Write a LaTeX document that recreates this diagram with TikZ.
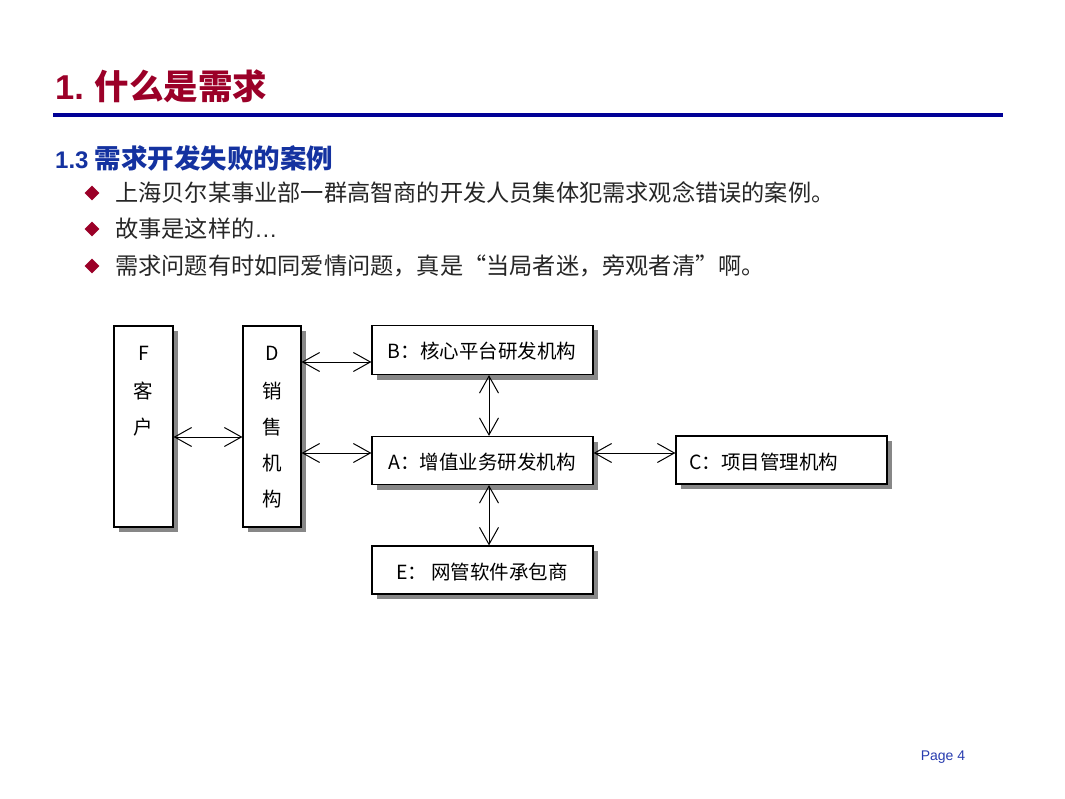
\documentclass[tikz,border=0pt]{standalone}
\usepackage{fontspec}
\setmainfont{Noto Sans CJK SC}
\newfontfamily\arialf{Liberation Sans}
\usetikzlibrary{arrows.meta,shadows,shapes.geometric}
\definecolor{titlered}{RGB}{155,0,40}
\definecolor{subblue}{RGB}{20,50,160}
\definecolor{linecol}{RGB}{0,0,150}
\definecolor{pageblue}{RGB}{40,60,175}
\definecolor{shadowgray}{RGB}{135,135,135}
\begin{document}
\begin{tikzpicture}[x=1pt,y=-1pt,
  bullettext/.style={anchor=west, inner sep=0, font=\fontsize{23.2}{27}\selectfont, text=black!85},
  bulletmark/.style={diamond, fill=titlered, minimum size=15pt, inner sep=0},
  box/.style={draw, line width=1.2pt, fill=white, inner sep=0,
    general shadow={fill=shadowgray, shadow xshift=5pt, shadow yshift=-5pt}},
  boxtext/.style={inner sep=0, font=\fontsize{19.5}{23}\selectfont},
  biarrow/.style={line width=1pt, {Straight Barb[length=17pt,width=19pt]}-{Straight Barb[length=17pt,width=19pt]}}
]
\useasboundingbox (0,0) rectangle (1065,799);
\fill[white] (0,0) rectangle (1065,799);

% title
\node[anchor=west, inner sep=0, text=titlered, font=\fontsize{34.5}{40}\selectfont\bfseries] (title) at (55,86) {{\arialf 1.} 什么是需求};
\draw[linecol, line width=4pt] (53,115) -- (1003,115);

% subtitle
\node[anchor=west, inner sep=0, text=subblue, font=\fontsize{26.5}{30}\selectfont\bfseries] (sub) at (55,158) {{\arialf\fontsize{24}{28}\selectfont 1.3} 需求开发失败的案例};

% bullets
\node[bulletmark] (d1) at (92,193) {};
\node[bulletmark] (d2) at (92,229) {};
\node[bulletmark] (d3) at (92,266) {};
\node[bullettext] (t1) at (115,193) {上海贝尔某事业部一群高智商的开发人员集体犯需求观念错误的案例。};
\node[bullettext] (t2) at (115,229) {故事是这样的{\arialf …}};
\node[bullettext] (t3) at (115,266) {需求问题有时如同爱情问题，真是“当局者迷，旁观者清”啊。};

% diagram boxes
\node[box, minimum width=59pt, minimum height=201pt] (F) at (143.5,426.5) {};
\node[box, minimum width=58pt, minimum height=201pt] (D) at (272,426.5) {};
\node[box, minimum width=221pt, minimum height=49pt] (B) at (482.5,350) {};
\node[box, minimum width=221pt, minimum height=48pt] (A) at (482.5,460.5) {};
\node[box, minimum width=221pt, minimum height=48pt] (E) at (482.5,570) {};
\node[box, minimum width=211pt, minimum height=48pt] (C) at (781.5,460) {};

% box texts
\node[boxtext] (f1) at (143.5,353) {F};
\node[boxtext] (f2) at (143.5,391) {客};
\node[boxtext] (f3) at (143.5,427) {户};
\node[boxtext] (dd1) at (272,353) {D};
\node[boxtext] (dd2) at (272,391) {销};
\node[boxtext] (dd3) at (272,427) {售};
\node[boxtext] (dd4) at (272,463) {机};
\node[boxtext] (dd5) at (272,499) {构};
\node[boxtext] (bt) at (482,351) {B：核心平台研发机构};
\node[boxtext] (at) at (482,462) {A：增值业务研发机构};
\node[boxtext] (et) at (482,572) {E： 网管软件承包商};
\node[boxtext, anchor=west] (ct) at (689,462) {C：项目管理机构};

% connectors
\coordinate (pFD) at ([yshift=-10.5pt]F.east);
\draw[biarrow] (pFD) -- (D.west |- pFD);
\coordinate (pDB) at ([yshift=-12pt]B.west);
\draw[biarrow] (D.east |- pDB) -- (pDB);
\coordinate (pDA) at ([yshift=7.5pt]A.west);
\draw[biarrow] (D.east |- pDA) -- (pDA);
\coordinate (pAC) at ([yshift=7.5pt]A.east);
\draw[biarrow] (pAC) -- (C.west |- pAC);
\coordinate (pBA) at ([xshift=6.5pt]B.south);
\draw[biarrow] (pBA) -- (A.north -| pBA);
\coordinate (pAE) at ([xshift=6.5pt]A.south);
\draw[biarrow] (pAE) -- (E.north -| pAE);

% page number
\node[inner sep=0, text=pageblue, font=\arialf\fontsize{14}{16}\selectfont] (page) at (943,757) {Page 4};
\end{tikzpicture}
\end{document}
